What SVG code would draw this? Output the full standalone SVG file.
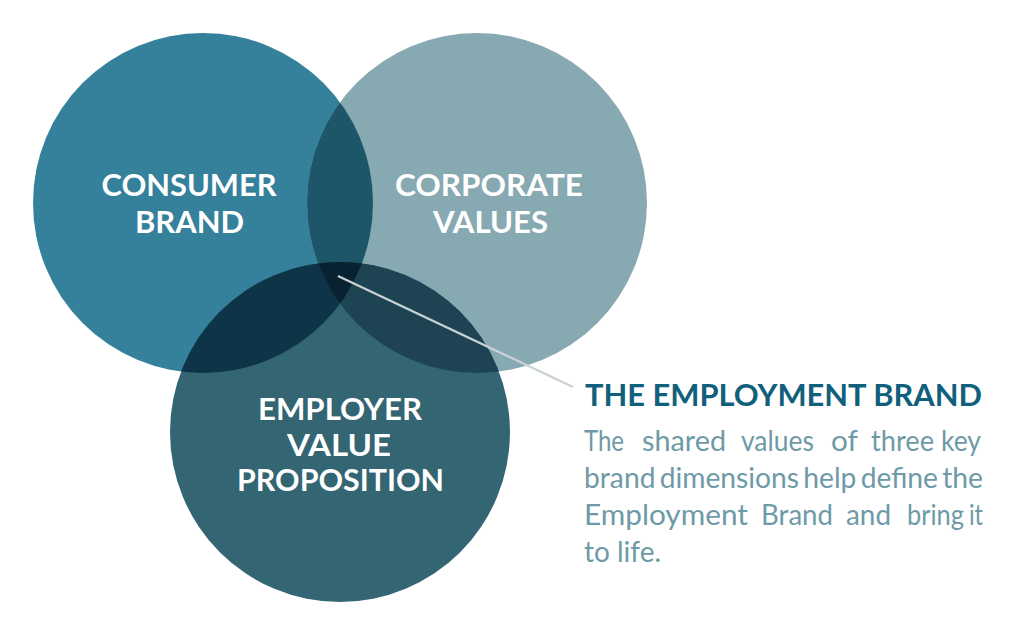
<svg xmlns="http://www.w3.org/2000/svg" width="1024" height="635" viewBox="0 0 1024 635">
<style>
.lbl{font-family:Lato,"Open Sans","Liberation Sans",sans-serif;font-weight:700;font-size:31px;fill:#ffffff;text-anchor:middle}
.head{font-family:Lato,"Open Sans","Liberation Sans",sans-serif;font-weight:700;font-size:30px;fill:#10607c}
.body{font-family:Lato,"Open Sans","Liberation Sans",sans-serif;font-weight:400;font-size:28px;fill:#6e9aa7}
</style>
<defs>
<clipPath id="cA"><circle cx="203" cy="203" r="170"/></clipPath>
<clipPath id="cB"><circle cx="477" cy="203" r="170"/></clipPath>
</defs>
<rect width="1024" height="635" fill="#ffffff"/>
<g id="consumer-brand">
<circle cx="203" cy="203" r="170" fill="#35809a"/>
</g>
<g id="corporate-values">
<circle cx="477" cy="203" r="170" fill="#87a9b2"/>
</g>
<g id="employer-value-proposition">
<circle cx="340" cy="432" r="170" fill="#336573"/>
</g>
<g id="overlaps">
<g clip-path="url(#cA)"><circle cx="477" cy="203" r="170" fill="#1e5669"/></g>
<g clip-path="url(#cA)"><circle cx="340" cy="432" r="170" fill="#0e3547"/></g>
<g clip-path="url(#cB)"><circle cx="340" cy="432" r="170" fill="#1e4453"/></g>
<g clip-path="url(#cA)"><g clip-path="url(#cB)"><circle cx="340" cy="432" r="170" fill="#082232"/></g></g>
</g>
<g id="labels">
<text class="lbl" x="189" y="196" textLength="175" lengthAdjust="spacingAndGlyphs">CONSUMER</text>
<text class="lbl" x="189.5" y="233" textLength="109" lengthAdjust="spacingAndGlyphs">BRAND</text>
<text class="lbl" x="489" y="196" textLength="188" lengthAdjust="spacingAndGlyphs">CORPORATE</text>
<text class="lbl" x="490.5" y="233" textLength="115" lengthAdjust="spacingAndGlyphs">VALUES</text>
<text class="lbl" x="340" y="420" textLength="164" lengthAdjust="spacingAndGlyphs">EMPLOYER</text>
<text class="lbl" x="339" y="456" textLength="104" lengthAdjust="spacingAndGlyphs">VALUE</text>
<text class="lbl" x="340.5" y="491" textLength="207" lengthAdjust="spacingAndGlyphs">PROPOSITION</text>
</g>
<g id="connectors">
<line x1="338" y1="276" x2="573" y2="387" stroke="#c9d2d5" stroke-width="2.2"/>
</g>
<g id="employment-brand">
<text class="head" x="585" y="406" textLength="397" lengthAdjust="spacingAndGlyphs">THE EMPLOYMENT BRAND</text>
<text class="body" y="451"><tspan x="584" textLength="40" lengthAdjust="spacingAndGlyphs">The</tspan><tspan x="642" textLength="84" lengthAdjust="spacingAndGlyphs">shared</tspan><tspan x="741" textLength="73" lengthAdjust="spacingAndGlyphs">values</tspan><tspan x="831" textLength="27" lengthAdjust="spacingAndGlyphs">of</tspan><tspan x="871" textLength="63" lengthAdjust="spacingAndGlyphs">three</tspan><tspan x="941" textLength="40" lengthAdjust="spacingAndGlyphs">key</tspan></text>
<text class="body" x="584" y="488" textLength="399" lengthAdjust="spacingAndGlyphs" word-spacing="-3">brand dimensions help define the</text>
<text class="body" y="525"><tspan x="584" textLength="164" lengthAdjust="spacingAndGlyphs">Employment</tspan><tspan x="761" textLength="72" lengthAdjust="spacingAndGlyphs">Brand</tspan><tspan x="846" textLength="45" lengthAdjust="spacingAndGlyphs">and</tspan><tspan x="907" textLength="57" lengthAdjust="spacingAndGlyphs">bring</tspan><tspan x="969" textLength="14" lengthAdjust="spacingAndGlyphs">it</tspan></text>
<text class="body" x="584" y="562">to life.</text>
</g>
</svg>
